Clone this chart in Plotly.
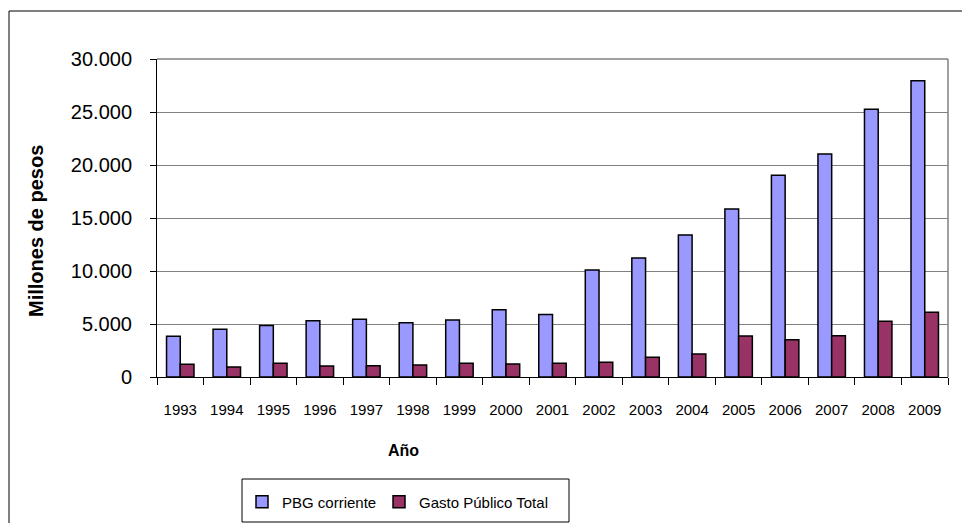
import plotly.graph_objects as go

years = [str(y) for y in range(1993, 2010)]
pbg = [3850, 4500, 4850, 5300, 5450, 5120, 5380, 6350, 5900, 10100, 11230, 13400, 15850, 19030, 21040, 25250, 27950]
gasto = [1200, 950, 1300, 1040, 1050, 1130, 1290, 1230, 1290, 1380, 1860, 2170, 3870, 3520, 3900, 5250, 6100]
y_ticks = [0, 5000, 10000, 15000, 20000, 25000, 30000]
y_tick_text = ["0", "5.000", "10.000", "15.000", "20.000", "25.000", "30.000"]

font = "Arial, Liberation Sans, sans-serif"

W, H = 962, 523
L, R, T, B = 157, 14, 59, 146
PW, PH = W - L - R, H - T - B


def px(x):
    return (x - L) / PW


def py(y):
    return (H - B - y) / PH


fig = go.Figure()
fig.add_trace(go.Bar(x=years, y=pbg, name="PBG corriente", legend="legend",
                     marker=dict(color="#9999FF", line=dict(color="black", width=1.5))))
fig.add_trace(go.Bar(x=years, y=gasto, name="Gasto Público Total", legend="legend2",
                     marker=dict(color="#993366", line=dict(color="black", width=1.5))))

leg_common = dict(orientation="h", xanchor="left", yanchor="middle", borderwidth=0,
                  bgcolor="rgba(0,0,0,0)", font=dict(size=15, family=font), itemwidth=30)

fig.update_layout(
    width=W, height=H,
    margin=dict(l=L, r=R, t=T, b=B, autoexpand=False),
    paper_bgcolor="white", plot_bgcolor="white",
    font=dict(family=font, size=13, color="black"),
    barmode="group", bargap=0.41, bargroupgap=0,
    showlegend=True,
    legend=dict(x=px(242), y=py(502), **leg_common),
    legend2=dict(x=px(379), y=py(502), **leg_common),
    xaxis=dict(type="category", showline=True, linecolor="black", linewidth=1,
               ticks="outside", tickson="boundaries", ticklen=7, tickcolor="black",
               showgrid=False, mirror=False, ticklabelstandoff=19, automargin=False,
               tickfont=dict(size=15, family=font)),
    yaxis=dict(range=[0, 30000], tickvals=y_ticks, ticktext=y_tick_text,
               showline=True, linecolor="black", linewidth=1,
               ticks="outside", ticklen=6, tickcolor="black",
               showgrid=True, gridcolor="#808080", gridwidth=1,
               zeroline=False, automargin=False,
               ticklabelstandoff=14,
               tickfont=dict(size=20, family=font)),
    annotations=[
        dict(text="<b>Año</b>", xref="paper", yref="paper", x=px(403), y=py(450),
             xanchor="center", yanchor="middle", showarrow=False,
             font=dict(size=16, family=font, color="black")),
        dict(text="<b>Millones de pesos</b>", xref="paper", yref="paper", x=px(36), y=py(231),
             xanchor="center", yanchor="middle", showarrow=False, textangle=-90,
             font=dict(size=20, family=font, color="black")),
    ],
    shapes=[
        dict(type="line", xref="paper", yref="paper", x0=0, x1=1, y0=1, y1=1,
             line=dict(color="#808080", width=1.5)),
        dict(type="line", xref="paper", yref="paper", x0=1, x1=1, y0=0, y1=1,
             line=dict(color="#808080", width=1.5)),
        dict(type="rect", xref="paper", yref="paper", x0=px(9), x1=px(1200), y0=py(900), y1=py(11),
             line=dict(color="black", width=1), fillcolor="rgba(0,0,0,0)", layer="below"),
        dict(type="rect", xref="paper", yref="paper", x0=px(242), x1=px(569), y0=py(522), y1=py(479),
             line=dict(color="black", width=1), fillcolor="rgba(0,0,0,0)", layer="below"),
    ],
)

fig.write_html("out.html", config={"displayModeBar": False})

with open("out.html", encoding="utf-8") as f:
    html = f.read()
html = html.replace("<head>", "<head><style>html,body{margin:0;padding:0;overflow:hidden;}</style>", 1)
with open("out.html", "w", encoding="utf-8") as f:
    f.write(html)
